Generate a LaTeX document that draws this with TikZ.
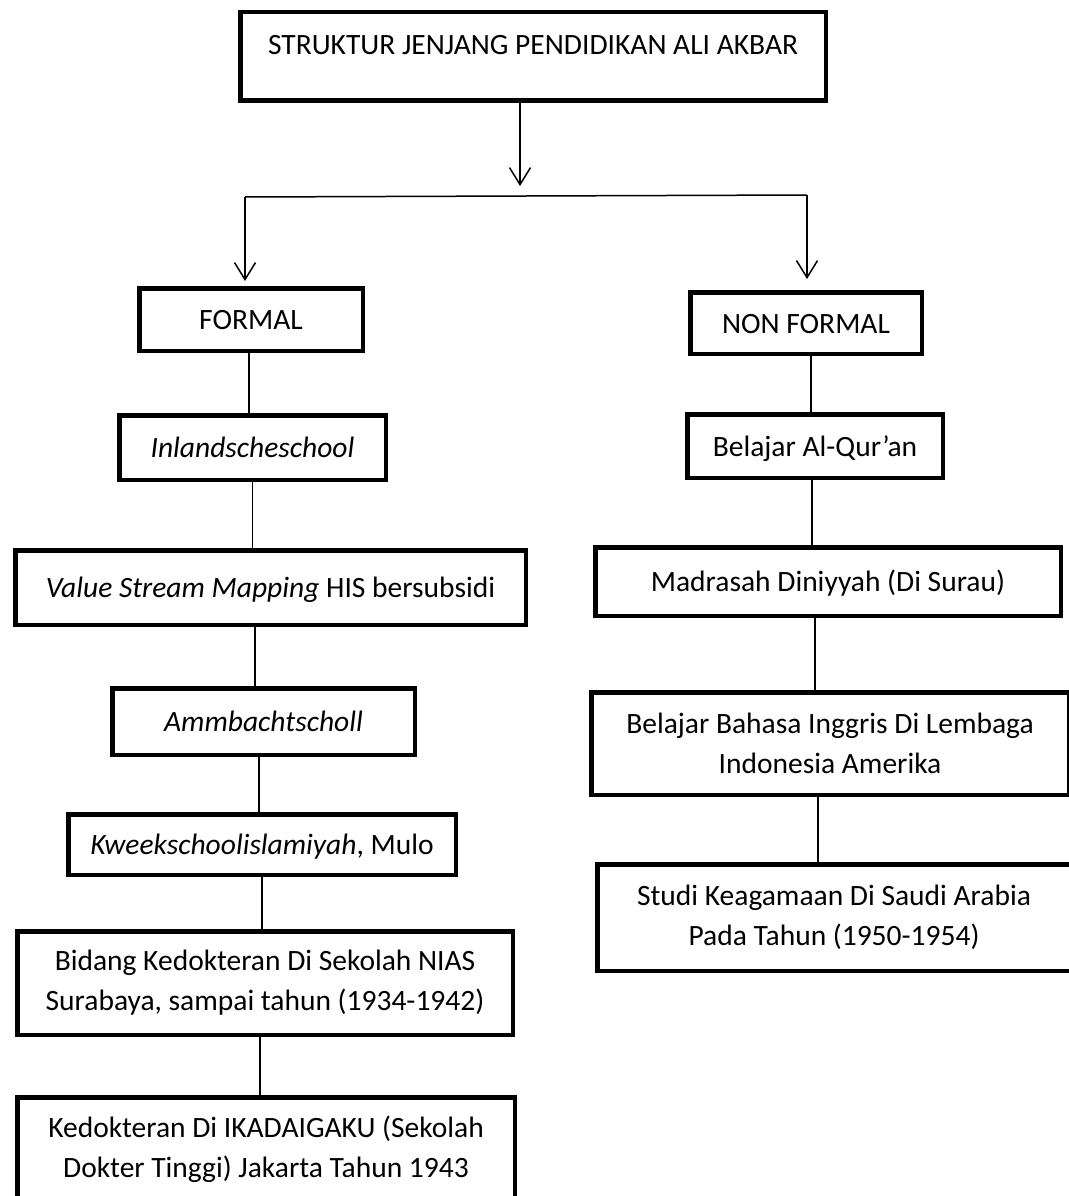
\documentclass[tikz,border=0pt]{standalone}
\usepackage{fontspec}
\setmainfont{Carlito}
\usetikzlibrary{arrows.meta}

\begin{document}
\begin{tikzpicture}[x=1pt, y=-1pt,
        jenjang/.style = {draw, line width=4.5pt, inner sep=0pt, align=center, font=\fontsize{29.5}{40}\selectfont},
        baris/.style = {text height=21pt, text depth=1pt},
        link/.style = {line width=1.5pt},
        arr/.style = {line width=1.5pt, -{Straight Barb[length=17pt, width=21pt]}}]
                \useasboundingbox (0,0) rectangle (1068,1196);
                \node[jenjang, minimum width=585.5pt, minimum height=88.5pt, text height=20pt, text depth=24pt] (judul) at (533,56.5) {STRUKTUR JENJANG PENDIDIKAN ALI AKBAR};
                \node[jenjang, baris, minimum width=223.5pt, minimum height=62.5pt] (formal) at (251,319.5) {FORMAL};
                \node[jenjang, baris, minimum width=231.5pt, minimum height=61.5pt] (nonformal) at (806,323) {NON FORMAL};
                \node[jenjang, baris, minimum width=266.5pt, minimum height=64.5pt] (inland) [below of = formal, node distance=128pt, xshift=1.5pt] {\textit{Inlandscheschool}};
                \node[jenjang, baris, minimum width=510.5pt, minimum height=74.5pt] (vsm) [below of = inland, node distance=140pt, xshift=18pt] {\textit{Value Stream Mapping} HIS bersubsidi};
                \node[jenjang, baris, minimum width=302.5pt, minimum height=66.5pt] (ammbacht) [below of = vsm, node distance=134pt, xshift=-7pt] {\textit{Ammbachtscholl}};
                \node[jenjang, baris, minimum width=387.5pt, minimum height=60.5pt] (kweek) [below of = ammbacht, node distance=123pt, xshift=-1.5pt] {\textit{Kweekschoolislamiyah}, Mulo};
                \node[jenjang, minimum width=495.5pt, minimum height=103.5pt] (nias) [below of = kweek, node distance=138.5pt, xshift=3pt] {Bidang Kedokteran Di Sekolah NIAS\\Surabaya, sampai tahun (1934-1942)};
                \node[jenjang, minimum width=497.5pt, minimum height=103.5pt] (ikada) [below of = nias, node distance=166pt, xshift=1pt] {Kedokteran Di IKADAIGAKU (Sekolah\\Dokter Tinggi) Jakarta Tahun 1943};
                \node[jenjang, baris, minimum width=255.5pt, minimum height=63.5pt] (quran) [below of = nonformal, node distance=123pt, xshift=9pt] {Belajar Al-Qur’an};
                \node[jenjang, baris, minimum width=465.5pt, minimum height=68.5pt] (madrasah) [below of = quran, node distance=135.5pt, xshift=13pt] {Madrasah Diniyyah (Di Surau)};
                \node[jenjang, minimum width=477.5pt, minimum height=102.5pt] (inggris) [below of = madrasah, node distance=162pt, xshift=2pt] {Belajar Bahasa Inggris Di Lembaga\\Indonesia Amerika};
                \node[jenjang, minimum width=473.5pt, minimum height=106.5pt] (saudi) [below of = inggris, node distance=174pt, xshift=4pt] {Studi Keagamaan Di Saudi Arabia\\Pada Tahun (1950-1954)};
                \coordinate (panah) at (520,186);
                \coordinate (kiri) at (245,197);
                \coordinate (kanan) at (807,195);
                \draw[arr] (judul.south -| panah) -- (panah);
                \draw[link] (kiri) -- (kanan);
                \draw[arr, shorten >=5pt] (kiri) -- (kiri |- formal.north);
                \draw[arr, shorten >=11pt] (kanan) -- (kanan |- nonformal.north);
                \draw[link] ([xshift=-2pt]formal.south) -- ([xshift=-2pt]formal.south |- inland.north);
                \draw[link] (inland.south) -- (inland.south |- vsm.north);
                \draw[link] ([xshift=-8.5pt]ammbacht.north |- vsm.south) -- ([xshift=-8.5pt]ammbacht.north);
                \draw[link] ([xshift=-3pt]kweek.north |- ammbacht.south) -- ([xshift=-3pt]kweek.north);
                \draw[link] (kweek.south) -- (kweek.south |- nias.north);
                \draw[link] ([xshift=-5pt]nias.south) -- ([xshift=-5pt]nias.south |- ikada.north);
                \draw[link] ([xshift=5pt]nonformal.south) -- ([xshift=5pt]nonformal.south |- quran.north);
                \draw[link] ([xshift=-3pt]quran.south) -- ([xshift=-3pt]quran.south |- madrasah.north);
                \draw[link] ([xshift=-13pt]madrasah.south) -- ([xshift=-13pt]madrasah.south |- inggris.north);
                \draw[link] ([xshift=-12pt]inggris.south) -- ([xshift=-12pt]inggris.south |- saudi.north);
            \end{tikzpicture}
\end{document}
